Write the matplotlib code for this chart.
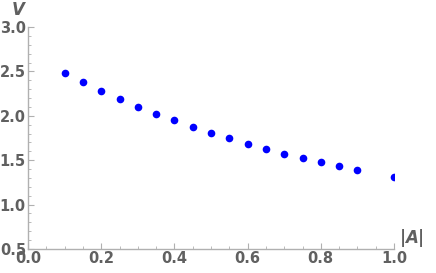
import matplotlib.pyplot as plt
from matplotlib.ticker import MultipleLocator

# data
A = [0.10, 0.15, 0.20, 0.25, 0.30, 0.35, 0.40, 0.45, 0.50, 0.55,
     0.60, 0.65, 0.70, 0.75, 0.80, 0.85, 0.90, 1.00]
V = [2.485, 2.38, 2.283, 2.186, 2.103, 2.024, 1.949, 1.874, 1.806, 1.747,
     1.686, 1.626, 1.573, 1.521, 1.476, 1.431, 1.39, 1.314]

axis_col = '#b0b0b0'
text_col = '#606060'

fig = plt.figure(figsize=(4.36, 2.73), dpi=100)
ax = fig.add_axes([28/436, 24/273, 366/436, 222/273])

ax.plot(A, V, 'o', color='#0000ff', markersize=5.5, markeredgewidth=0)

ax.set_xlim(0, 1)
ax.set_ylim(0.5, 3.0)
ax.xaxis.set_major_locator(MultipleLocator(0.2))
ax.xaxis.set_minor_locator(MultipleLocator(0.05))
ax.yaxis.set_major_locator(MultipleLocator(0.5))
ax.yaxis.set_minor_locator(MultipleLocator(0.1))
ax.xaxis.set_major_formatter(plt.FuncFormatter(lambda v, p: f'{v:.1f}'))
ax.yaxis.set_major_formatter(plt.FuncFormatter(lambda v, p: f'{v:.1f}'))

for s in ['top', 'right']:
    ax.spines[s].set_visible(False)
for s in ['left', 'bottom']:
    ax.spines[s].set_color(axis_col)
    ax.spines[s].set_linewidth(1.0)

ax.tick_params(which='both', direction='in', color=axis_col, labelcolor=text_col,
               labelsize=10.5, pad=1.5)
ax.tick_params(which='major', length=4, width=0.8)
ax.tick_params(which='minor', length=2.5, width=0.6)
for lbl in ax.get_xticklabels() + ax.get_yticklabels():
    lbl.set_fontweight('bold')

ax.text(-0.01, 1.035, 'V', transform=ax.transAxes, ha='right', va='bottom',
        fontsize=12, style='italic', fontweight='bold', color=text_col)
ax.text(1.015, 0.0, '|$\\mathbfit{A}$|', transform=ax.transAxes, ha='left', va='bottom',
        fontsize=12, fontweight='bold', color=text_col)

fig.savefig('out.png', dpi=100)
